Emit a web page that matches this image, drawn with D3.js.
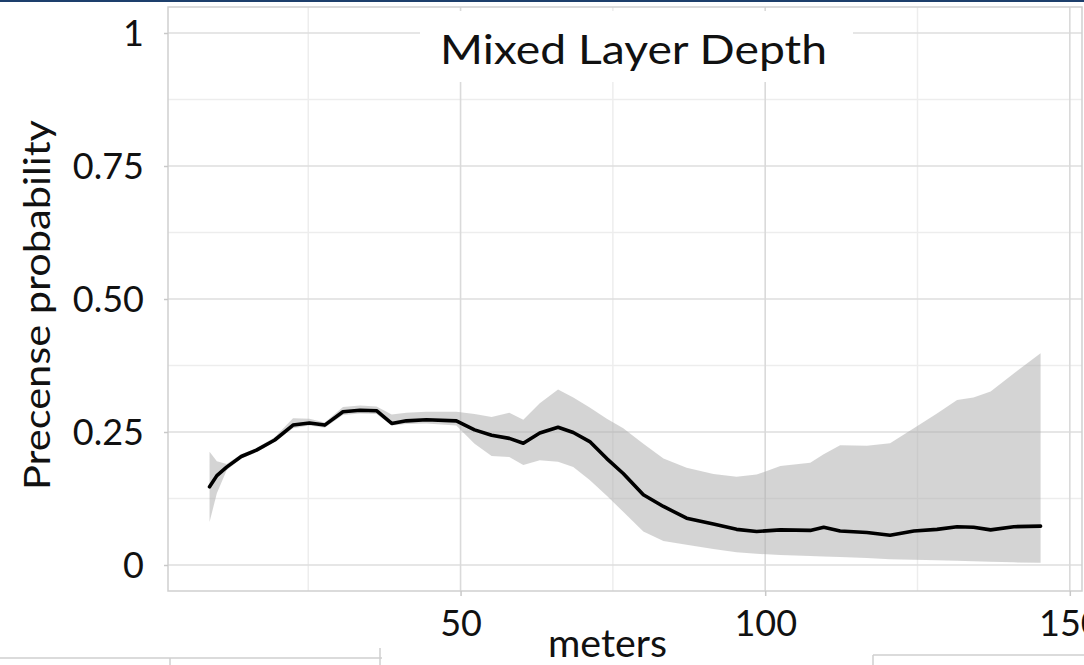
<!DOCTYPE html>
<html>
<head>
<meta charset="utf-8">
<script src="https://cdn.jsdelivr.net/npm/d3@7"></script>
<style>
  html, body { margin: 0; padding: 0; background: #fff; }
  svg { display: block; font-family: Lato, "Open Sans", sans-serif; }
</style>
</head>
<body>
<svg id="chart" width="1084" height="665"></svg>
<script>
// Depth (m) and modelled presence probability with its confidence band
const depth = [8.8, 10, 11.6, 14, 16.5, 19.5, 22.5, 25.2, 27.7, 30.7, 33.5, 36.2, 38.7, 41.1, 44.4, 49.3,
  52.3, 55.1, 58, 60.3, 63, 66, 68.5, 71.2, 74, 76.7, 80, 83.3, 87.1, 91.5, 95.3, 98.6, 102.5, 107.4,
  109.6, 112.3, 116.7, 120.5, 124.4, 128.2, 131.5, 134.2, 137, 140.8, 145.2];
const meanProb = [0.147, 0.168, 0.184, 0.204, 0.216, 0.235, 0.263, 0.267, 0.263, 0.288, 0.291, 0.290, 0.266, 0.271, 0.273, 0.271,
  0.254, 0.244, 0.238, 0.229, 0.248, 0.259, 0.249, 0.232, 0.200, 0.172, 0.132, 0.110, 0.088, 0.077, 0.067, 0.063, 0.066, 0.065,
  0.071, 0.064, 0.061, 0.056, 0.064, 0.067, 0.072, 0.071, 0.066, 0.072, 0.073];
const upperProb = [0.213, 0.195, 0.190, 0.208, 0.220, 0.240, 0.276, 0.275, 0.268, 0.297, 0.300, 0.298, 0.283, 0.286, 0.288, 0.288,
  0.284, 0.278, 0.286, 0.273, 0.304, 0.330, 0.315, 0.296, 0.275, 0.257, 0.228, 0.200, 0.183, 0.171, 0.166, 0.170, 0.186, 0.192,
  0.208, 0.225, 0.224, 0.229, 0.257, 0.285, 0.310, 0.315, 0.326, 0.360, 0.398];
const lowerProb = [0.081, 0.135, 0.178, 0.200, 0.212, 0.231, 0.257, 0.262, 0.258, 0.282, 0.285, 0.284, 0.262, 0.265, 0.266, 0.262,
  0.228, 0.205, 0.203, 0.188, 0.197, 0.194, 0.184, 0.160, 0.130, 0.100, 0.063, 0.045, 0.038, 0.030, 0.024, 0.021, 0.019, 0.017,
  0.016, 0.015, 0.013, 0.011, 0.010, 0.009, 0.008, 0.007, 0.006, 0.005, 0.004];

const yTicks = [0, 0.25, 0.5, 0.75, 1];
const yTickLabels = ["0", "0.25", "0.50", "0.75", "1"];
const yMinor = [0.125, 0.375, 0.625, 0.875];
const xTicks = [50, 100, 150];
const xTickLabels = ["50", "100", "150"];
const xMinor = [25, 75, 125];

const titleText = "Mixed Layer Depth";
const xTitle = "meters";
const yTitle = "Precense probability";

const rows = depth.map((d, i) => ({ d, m: meanProb[i], lo: lowerProb[i], hi: upperProb[i] }));

const svg = d3.select("#chart");
const panel = { left: 168, right: 1082, top: 7, bottom: 591 };

const x = d3.scaleLinear().domain([1.98, 152.0]).range([panel.left, panel.right]);
const y = d3.scaleLinear().domain([-0.05, 1.05]).range([591.6, 6.4]);

// dark rule along the top edge
svg.append("rect").attr("x", 0).attr("y", 0).attr("width", 1084).attr("height", 2).attr("fill", "#1d3f6c");

// grid
const grid = svg.append("g");
grid.selectAll(".ymin").data(yMinor).join("line")
  .attr("x1", panel.left).attr("x2", panel.right)
  .attr("y1", d => y(d)).attr("y2", d => y(d))
  .attr("stroke", "#ededed").attr("stroke-width", 1.5);
grid.selectAll(".xmin").data(xMinor).join("line")
  .attr("y1", panel.top).attr("y2", panel.bottom)
  .attr("x1", d => x(d)).attr("x2", d => x(d))
  .attr("stroke", "#ededed").attr("stroke-width", 1.5);
grid.selectAll(".ymaj").data(yTicks).join("line")
  .attr("x1", panel.left).attr("x2", panel.right)
  .attr("y1", d => y(d)).attr("y2", d => y(d))
  .attr("stroke", "#dedede").attr("stroke-width", 1.6);
grid.selectAll(".xmaj").data(xTicks).join("line")
  .attr("y1", panel.top).attr("y2", panel.bottom)
  .attr("x1", d => x(d)).attr("x2", d => x(d))
  .attr("stroke", "#dadada").attr("stroke-width", 1.6);

// confidence band
svg.append("path").datum(rows)
  .attr("d", d3.area().x(r => x(r.d)).y0(r => y(r.lo)).y1(r => y(r.hi)))
  .attr("fill", "#a9a9a9").attr("fill-opacity", 0.5);

// mean response
svg.append("path").datum(rows)
  .attr("d", d3.line().x(r => x(r.d)).y(r => y(r.m)))
  .attr("fill", "none").attr("stroke", "#000").attr("stroke-width", 3.6)
  .attr("stroke-linejoin", "round").attr("stroke-linecap", "round");

// panel frame
svg.append("rect")
  .attr("x", panel.left).attr("y", panel.top)
  .attr("width", panel.right - panel.left).attr("height", panel.bottom - panel.top)
  .attr("fill", "none").attr("stroke", "#cfcfcf").attr("stroke-width", 1.5);

// axes
const yAxis = svg.append("g").attr("transform", `translate(${panel.left},0)`)
  .call(d3.axisLeft(y).tickValues(yTicks).tickSize(4).tickPadding(20)
    .tickFormat((d, i) => yTickLabels[i]));
const xAxis = svg.append("g").attr("transform", `translate(0,${panel.bottom})`)
  .call(d3.axisBottom(x).tickValues(xTicks).tickSize(5).tickPadding(14)
    .tickFormat((d, i) => xTickLabels[i]));
[yAxis, xAxis].forEach(g => {
  g.select(".domain").remove();
  g.selectAll(".tick line").attr("stroke", "#c8c8c8").attr("stroke-width", 1.5);
  g.selectAll(".tick text").attr("fill", "#111").attr("font-family", "Lato, sans-serif")
    .attr("font-size", 36);
});
yAxis.selectAll(".tick text").attr("dy", "0.36em");
xAxis.selectAll(".tick text").attr("dy", "0.71em");

// title in its own white box over the top of the panel
svg.append("rect").attr("x", 420).attr("y", 11).attr("width", 433).attr("height", 71).attr("fill", "#fff");
svg.append("text").attr("x", 440).attr("y", 64)
  .attr("font-size", 41).attr("fill", "#111")
  .attr("textLength", 387).attr("lengthAdjust", "spacingAndGlyphs")
  .text(titleText);

// axis titles
svg.append("text").attr("x", 548).attr("y", 657)
  .attr("font-size", 38).attr("fill", "#111")
  .attr("textLength", 119).attr("lengthAdjust", "spacingAndGlyphs")
  .text(xTitle);
svg.append("text")
  .attr("transform", "translate(50,490) rotate(-90)")
  .attr("font-size", 37).attr("fill", "#111")
  .attr("textLength", 370).attr("lengthAdjust", "spacingAndGlyphs")
  .text(yTitle);

// edges of neighbouring panels visible along the bottom
const edge = svg.append("g").attr("stroke", "#cfcfcf").attr("stroke-width", 1.5).attr("fill", "none");
edge.append("line").attr("x1", 0).attr("x2", 382).attr("y1", 658).attr("y2", 658);
edge.append("line").attr("x1", 170).attr("x2", 170).attr("y1", 658).attr("y2", 665);
edge.append("line").attr("x1", 380).attr("x2", 380).attr("y1", 648).attr("y2", 665);
edge.append("line").attr("x1", 873).attr("x2", 1084).attr("y1", 655).attr("y2", 655);
edge.append("line").attr("x1", 873).attr("x2", 873).attr("y1", 655).attr("y2", 665);
</script>
</body>
</html>
